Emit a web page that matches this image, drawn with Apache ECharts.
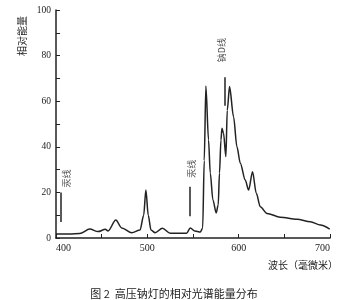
<!DOCTYPE html>
<html>
<head>
<meta charset="utf-8">
<script src="https://cdn.jsdelivr.net/npm/echarts@6/dist/echarts.min.js"></script>
<style>html,body{margin:0;padding:0;background:#fff;}#c{width:348px;height:300px;}</style>
</head>
<body>
<div id="c"></div>
<script>
// Wavelength (nm) and relative energy
const wavelength = [400, 415, 426, 437, 446, 454, 457, 465.5, 472, 483, 492, 496, 498.4, 501, 504, 508.5, 516.5, 525, 543, 547, 552, 558, 560.6, 562.3, 564.1, 567, 568.9, 571.8, 575.4, 577.6, 579, 580.6, 581.7, 583.4, 586, 587.5, 590, 594.4, 598.1, 601.8, 607.2, 610.9, 615.2, 619.3, 623.7, 631, 645.6, 663.9, 678.5, 689.5, 699.7];
const energy = [1.8, 1.8, 2.0, 3.9, 2.8, 3.8, 3.1, 7.9, 4.4, 2.3, 3.5, 10, 21, 10, 3.5, 2.3, 4.3, 2.1, 2.1, 4.4, 3.1, 2.6, 4.4, 34, 66.7, 43, 28.5, 16.7, 11, 14.5, 28.5, 43, 48.1, 46, 35.7, 56, 66.4, 53.2, 40, 32.8, 25.4, 21, 29.1, 19.6, 13.7, 10.8, 9.1, 8.2, 7.1, 5.7, 3.9];

// Annotation marker lines (spectral lines)
const annoWl = [405, 546, 584.5];
const annoLow = [7, 9.5, 58];
const annoHigh = [20, 22.5, 70.5];
const annoText = ['汞线', '汞线', '钠D线'];

// Axis ticks
const xTicks = [400, 500, 600, 700];
const yTicks = [0, 20, 40, 60, 80, 100];

const yAxisName = '相对能量';
const xAxisName = '波长（毫微米）';
const caption = '图 2  高压钠灯的相对光谱能量分布';

// label offsets in the rotated label frame: [-screenDy, screenDx]
const labelShift = [[5, 6], [9, 2], [15, -3]];
const ink = '#222';
const serif = 'Liberation Serif';
const cjk = 'Noto Sans CJK SC';

const chart = echarts.init(document.getElementById('c'), null, {renderer: 'canvas'});
chart.setOption({
  animation: false,
  backgroundColor: '#fff',
  grid: {left: 56, right: 18, top: 10, bottom: 62, containLabel: false},
  title: [
    {text: xAxisName, left: 263, top: 255, textStyle: {fontFamily: cjk, fontSize: 10, fontWeight: 'normal', color: ink}},
    {text: caption, left: 'center', top: 283, textStyle: {fontFamily: cjk, fontSize: 11, fontWeight: 'normal', color: ink}}
  ],
  graphic: [
    {type: 'text', x: 22, y: 36, rotation: Math.PI / 2,
     style: {text: yAxisName, align: 'center', verticalAlign: 'middle', fill: ink, font: '10px "Noto Sans CJK SC"'}}
  ],
  xAxis: {
    type: 'value', min: 400, max: 700, interval: 50,
    axisLine: {show: true, lineStyle: {color: ink, width: 1.5}},
    axisTick: {show: true, inside: true, length: 4, lineStyle: {color: ink, width: 1}},
    splitLine: {show: false},
    axisLabel: {
      color: ink, fontFamily: serif, fontSize: 10, margin: 5,
      alignMinLabel: 'left', alignMaxLabel: 'right',
      formatter: v => xTicks.includes(v) ? String(v) : ''
    }
  },
  yAxis: {
    type: 'value', min: 0, max: 100, interval: 10,
    axisLine: {show: true, lineStyle: {color: ink, width: 1.5}},
    axisTick: {show: true, inside: true, length: 4, lineStyle: {color: ink, width: 1}},
    splitLine: {show: false},
    axisLabel: {
      color: ink, fontFamily: serif, fontSize: 9.5, margin: 5,
      formatter: v => yTicks.includes(v) ? String(v) : ''
    }
  },
  series: [
    {
      type: 'line',
      data: wavelength.map((w, i) => [w, energy[i]]),
      showSymbol: false,
      smooth: 0.3,
      smoothMonotone: 'x',
      lineStyle: {color: ink, width: 1.5},
      markLine: {
        silent: true,
        symbol: ['none', 'none'],
        label: {show: false},
        lineStyle: {color: ink, width: 1.5, type: 'solid'},
        data: annoWl.map((w, i) => [{coord: [w, annoLow[i]]}, {coord: [w, annoHigh[i]]}])
      }
    },
    {
      type: 'scatter',
      symbolSize: 0,
      silent: true,
      data: annoWl.map((w, i) => ({
        value: [w, annoHigh[i]],
        label: {
          show: true, formatter: annoText[i], position: 'inside',
          rotate: 90, align: 'left', verticalAlign: 'middle',
          offset: labelShift[i],
          color: ink, fontFamily: cjk, fontSize: 9
        }
      }))
    }
  ]
});
</script>
</body>
</html>
